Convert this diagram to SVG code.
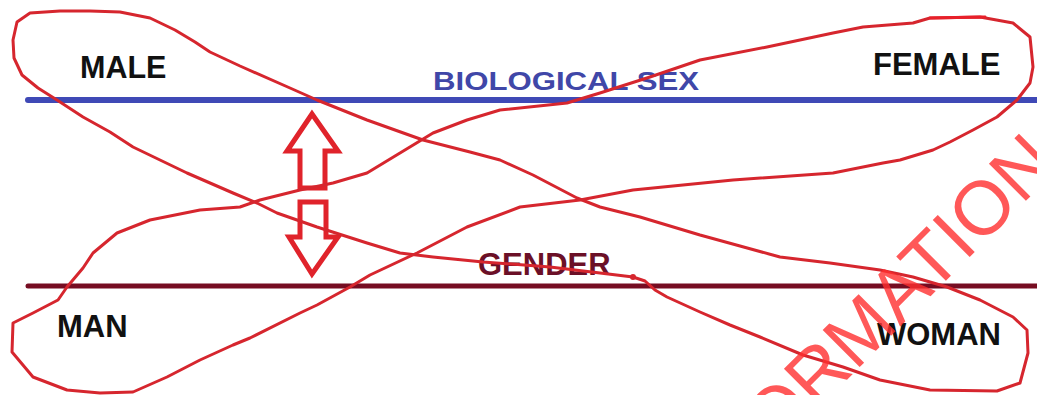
<svg xmlns="http://www.w3.org/2000/svg" width="1037" height="395" viewBox="0 0 1037 395">
<style>
.lbl{font-family:"Liberation Sans",Arial,sans-serif;font-weight:bold;fill:#111}
.loop{fill:none;stroke:#d6262e;stroke-width:3;stroke-linejoin:round;stroke-linecap:round}
.arr{fill:none;stroke:#e0232b;stroke-width:5;stroke-linejoin:miter}
.wm{font-family:"Liberation Sans",Arial,sans-serif;font-size:76px;fill:#ff2f2f;opacity:0.8}
</style>
<rect width="1037" height="395" fill="#fff"/>
<g id="axes">
<line id="sex-axis" x1="28" y1="100" x2="1037" y2="100" stroke="#3f49b6" stroke-width="6" stroke-linecap="round"/>
<line id="gender-axis" x1="28" y1="286" x2="1037" y2="286" stroke="#760d22" stroke-width="5" stroke-linecap="round"/>
</g>
<g id="node-male"><text class="lbl" x="80" y="78" font-size="30.5">MALE</text></g>
<g id="node-female"><text class="lbl" x="873" y="75" font-size="31">FEMALE</text></g>
<g id="node-man"><text class="lbl" x="57" y="337" font-size="31">MAN</text></g>
<g id="node-woman"><text class="lbl" x="877" y="345" font-size="31">WOMAN</text></g>
<g id="label-sex"><text class="lbl" x="433" y="90" font-size="25" textLength="266" lengthAdjust="spacingAndGlyphs" style="fill:#4047a8">BIOLOGICAL SEX</text></g>
<g id="label-gender"><text class="lbl" x="478" y="275" font-size="31" style="fill:#6b1027">GENDER</text></g>
<g id="arrows">
<polygon class="arr" points="312,114 338,151 325,151 325,188 300,188 300,151 287,151"/>
<polygon class="arr" points="300,202 326,202 326,237 338,237 312,274 289,237 300,237"/>
</g>
<g id="connectors">
<path id="loop-male-woman" class="loop" d="M120,12 L90,11 L60,11 L30,13 L17,22 L13,40 L14,58 L22,75 L38,88 L57,100 L83,117 L110,132 L133,147 L160,160 L187,173 L233,193 L257,203 L277,213 L317,227 L367,243 L400,253 L433,257 L483,262 L550,267 L600,273 L633,277 L645,281 L655,290 L667,297 L700,312 L730,325 L760,337 L803,355 L843,367 L880,380 L930,390 L997,391 L1020,383 L1028,353 L1027,330 L1013,317 L980,300 L947,287 L913,277 L880,270 L830,263 L780,257 L740,246 L700,235 L640,217 L600,207 L577,198 L533,175 L500,160 L470,152 L423,140 L367,120 L317,100 L290,88 L240,66 L210,52 L195,42 L175,30 L150,18 Z"/>
<path id="loop-female-man" class="loop" d="M863,27 L913,23 L930,18 L980,17 L1013,23 L1030,37 L1033,67 L1030,83 L1017,100 L997,117 L973,130 L950,142 L933,150 L900,160 L883,163 L833,173 L733,180 L633,190 L580,200 L520,207 L467,227 L417,253 L370,275 L350,287 L317,305 L300,313 L250,338 L233,345 L200,360 L167,377 L133,392 L100,393 L67,390 L33,377 L12,352 L13,323 L33,313 L58,300 L67,287 L83,268 L93,253 L117,233 L150,220 L200,210 L240,207 L260,200 L300,190 L333,183 L367,173 L400,153 L433,133 L467,120 L500,110 L567,103 L600,93 L650,77 L700,60 L767,47 L833,33 Z"/>
<path class="loop" d="M930,18 L985,17" stroke-width="5" style="stroke:#e8202a"/>
<circle cx="633" cy="277" r="3" fill="#d6262e"/>
</g>
<g id="watermark">
<text class="wm" transform="translate(774.7,452.1) rotate(-45)">ORMATION</text>
</g>
</svg>
